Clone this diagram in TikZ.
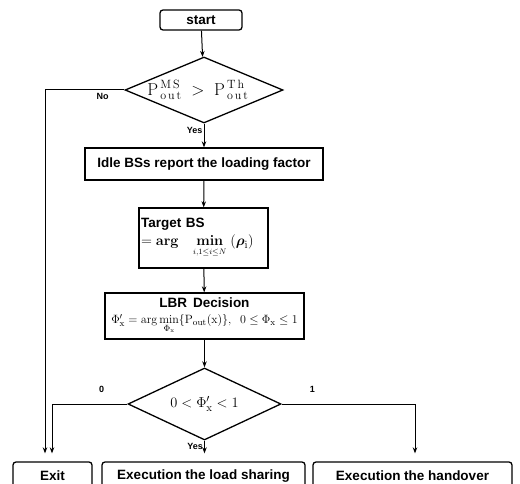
\documentclass[tikz,border=0pt]{standalone}
\usepackage{amsmath,bm}
\usepackage[no-math]{fontspec}
\setmainfont{Liberation Sans}
\usetikzlibrary{shapes.geometric,arrows.meta}
\begin{document}
\begin{tikzpicture}[x=1pt,y=-1pt,
  box/.style={draw,line width=1.3pt,inner sep=2pt,font=\bfseries\fontsize{13.5}{16}\selectfont},
  rbox/.style={box,rounded corners=3pt},
  dia/.style={draw,diamond,line width=1.3pt,inner sep=0pt},
  conn/.style={line width=1pt,-{Stealth[length=6pt,width=4.5pt]}},
  lab/.style={font=\bfseries\fontsize{9}{10}\selectfont,inner sep=1pt}]
\useasboundingbox (0,0) rectangle (520,484);
\node[rbox,minimum width=82pt,minimum height=20pt] (start) at (201,20) {start};
\node[dia,minimum width=158pt,minimum height=66pt] (d1) at (204,90) {};
\node[inner sep=0pt] (d1t) at ([xshift=-6pt]d1.center)
  {\fontsize{18}{20}\selectfont$\mathrm{P}^{\,\mathrm{M\,S}}_{\,\mathrm{o\,u\,t}}\;>\;\mathrm{P}^{\,\mathrm{T\,h}}_{\,\mathrm{o\,u\,t}}$};
\node[box,minimum width=238pt,minimum height=32pt] (box2) at (204,164) {Idle BSs report the loading factor};
\node[box,minimum width=129pt,minimum height=60pt,text width=125pt,align=left,inner sep=1pt] (box3) at (203.5,238)
  {Target BS\\[2pt]{\fontsize{15.5}{17}\selectfont$\mathbf{=arg}\;\;\;\mathop{\mathbf{min}}\limits_{\scriptscriptstyle i,1\le i\le N}\;(\bm{\rho}_{\mathrm i})$}};
\node[box,minimum width=199pt,minimum height=46pt,align=center,inner sep=1pt] (box4) at (204.5,316)
  {LBR\, Decision\\[0pt]{\fontsize{12.5}{14}\selectfont\mdseries$\Phi'_{\mathrm x}=\arg\min\limits_{\Phi_{\mathrm x}}\{\mathrm{P}_{\mathrm{out}}(\mathrm x)\},\;\;0\le\Phi_{\mathrm x}\le1$}};
\node[dia,minimum width=153pt,minimum height=72pt] (d2) at (204.5,404) {};
\node[inner sep=0pt] (d2t) at (d2.center)
  {\fontsize{15}{18}\selectfont$0<\Phi'_{\mathrm x}<1$};
\node[rbox,minimum width=79pt,minimum height=28pt] (exit) at (52.5,476) {Exit};
\node[rbox,minimum width=203pt,minimum height=28pt] (share) at (203.5,476) {Execution the load sharing};
\node[rbox,minimum width=199pt,minimum height=28pt] (hand) at (412.5,476) {Execution the handover};
\draw[conn] (start) -- (d1);
\draw[conn] (d1) -- node[lab,left,pos=0.3]{Yes} (box2);
\draw[conn] (box2) -- (box3);
\draw[conn] (box3) -- (box4);
\draw[conn] (box4) -- (d2);
\draw[conn,shorten >=8pt] (d1.west) -| node[lab,below,pos=0.1375,yshift=-2pt]{No} ([xshift=-7.5pt]exit.north);
\draw[conn,shorten >=8pt] (d2.west) -| node[lab,above,pos=0.17,yshift=10pt]{0} ([xshift=-0.5pt]exit.north);
\draw[conn,shorten >=8pt] (d2.east) -| node[lab,above,pos=0.115,yshift=10pt]{1} ([xshift=2.5pt]hand.north);
\draw[conn,shorten >=8pt] (d2.south) -- node[lab,left,pos=0.3]{Yes} (d2.south |- share.north);
\end{tikzpicture}
\end{document}
